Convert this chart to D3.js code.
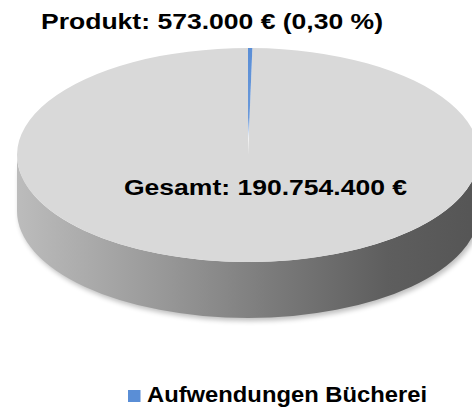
<!DOCTYPE html>
<html>
  <head>
    <meta charset="utf-8">
    <title>Aufwendungen Bücherei</title>
    <script src="https://d3js.org/d3.v7.min.js"></script>
    <style>
      body { margin: 0; background: #fff; }
      text { font-family: "Liberation Sans", Arial, sans-serif; font-weight: bold; fill: #000; }
    </style>
  </head>
  <body>
    <div id="chart"></div>
    <script>
      // data
      const categories = ["Aufwendungen Bücherei", "Übrige Aufwendungen"];
      const values = [573000, 190181400];
      const titleText = "Produkt: 573.000 € (0,30 %)";
      const totalText = "Gesamt: 190.754.400 €";
      const colors = ["#5a8ed6", "#d9d9d9"];

      const width = 472, height = 408;
      // ellipse of the top face
      const cx = 248, cy = 155, rx = 231, ry = 107, depth = 56;

      const svg = d3.select("#chart").append("svg")
        .attr("width", width)
        .attr("height", height);

      const defs = svg.append("defs");
      // side shading, light on the left, dark on the right
      const sideGrad = defs.append("linearGradient")
        .attr("id", "sideGrad")
        .attr("gradientUnits", "userSpaceOnUse")
        .attr("x1", cx - rx).attr("x2", cx + rx)
        .attr("y1", 0).attr("y2", 0);
      sideGrad.append("stop").attr("offset", "0%").attr("stop-color", "#bcbcbc");
      sideGrad.append("stop").attr("offset", "30%").attr("stop-color", "#9a9a9a");
      sideGrad.append("stop").attr("offset", "55%").attr("stop-color", "#7b7b7b");
      sideGrad.append("stop").attr("offset", "80%").attr("stop-color", "#5e5e5e");
      sideGrad.append("stop").attr("offset", "100%").attr("stop-color", "#555555");
      // blue slice fades towards the centre (coords of the unscaled pie group)
      const fade = defs.append("linearGradient")
        .attr("id", "sliceGrad")
        .attr("gradientUnits", "userSpaceOnUse")
        .attr("x1", 0).attr("x2", 0)
        .attr("y1", -rx).attr("y2", 0);
      fade.append("stop").attr("offset", "0%").attr("stop-color", colors[0]).attr("stop-opacity", 1);
      fade.append("stop").attr("offset", "65%").attr("stop-color", colors[0]).attr("stop-opacity", 0.9);
      fade.append("stop").attr("offset", "85%").attr("stop-color", colors[0]).attr("stop-opacity", 0);
      // soft shadow under the disc
      defs.append("filter")
        .attr("id", "shadow")
        .attr("x", "-10%").attr("y", "-10%").attr("width", "120%").attr("height", "130%")
        .append("feGaussianBlur").attr("stdDeviation", 2.5);

      const disc = svg.append("g");

      // shadow
      disc.append("path")
        .attr("d", `M${cx - rx + 2},${cy + 4} A${rx} ${ry} 0 0 0 ${cx + rx + 2},${cy + 4} L${cx + rx + 2},${cy + depth + 3} A${rx} ${ry} 0 0 1 ${cx - rx + 2},${cy + depth + 3} Z`)
        .attr("fill", "#000")
        .attr("opacity", 0.25)
        .attr("filter", "url(#shadow)");

      // side wall
      disc.append("path")
        .attr("d", `M${cx - rx},${cy} A${rx} ${ry} 0 0 0 ${cx + rx},${cy} L${cx + rx},${cy + depth} A${rx} ${ry} 0 0 1 ${cx - rx},${cy + depth} Z`)
        .attr("fill", "url(#sideGrad)");

      // top face, drawn as a pie squashed into an ellipse
      const pie = d3.pie().sort(null).value(d => d);
      const arc = d3.arc().innerRadius(0).outerRadius(rx);
      const face = disc.append("g")
        .attr("transform", `translate(${cx},${cy}) scale(1,${ry / rx})`);
      face.selectAll("path.slice")
        .data(pie(values).reverse())
        .enter().append("path")
          .attr("class", "slice")
          .attr("d", arc)
          .attr("fill", d => d.index === 0 ? "url(#sliceGrad)" : colors[1]);

      // labels
      svg.append("text")
        .attr("x", 41).attr("y", 28.5)
        .attr("font-size", 22.5)
        .attr("textLength", 342)
        .attr("lengthAdjust", "spacingAndGlyphs")
        .text(titleText);

      svg.append("text")
        .attr("x", 124).attr("y", 195)
        .attr("font-size", 22.5)
        .attr("textLength", 283)
        .attr("lengthAdjust", "spacingAndGlyphs")
        .text(totalText);

      // legend, first category only
      const legend = svg.append("g");
      legend.append("rect")
        .attr("x", 128).attr("y", 390)
        .attr("width", 12.5).attr("height", 12)
        .attr("fill", colors[0]);
      legend.append("text")
        .attr("x", 147).attr("y", 401.5)
        .attr("font-size", 22)
        .attr("textLength", 280)
        .attr("lengthAdjust", "spacingAndGlyphs")
        .text(categories[0]);
    </script>
  </body>
</html>
